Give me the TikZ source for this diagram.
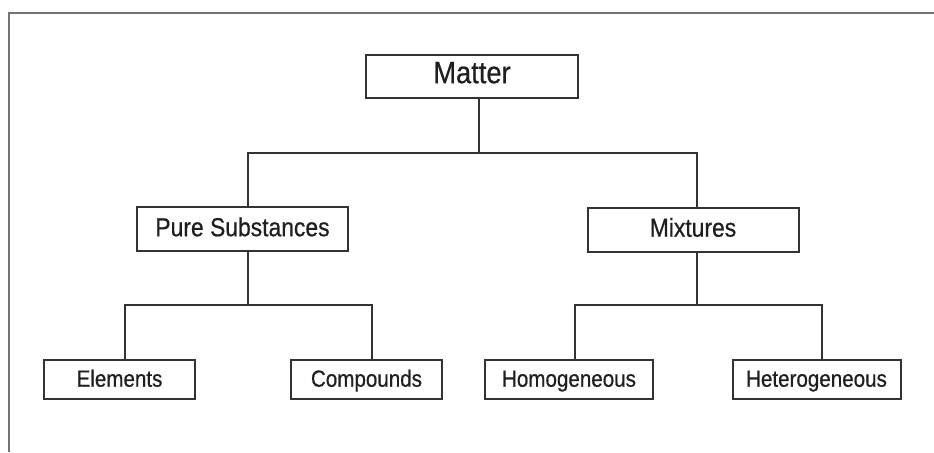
\documentclass[tikz,border=0pt]{standalone}
\usepackage{fontspec}
\setmainfont{Liberation Sans}[FakeStretch=0.88,FakeBold=0.6]
\begin{document}
\begin{tikzpicture}[x=0.5pt,y=-0.5pt,
  box/.style={draw=black!80,line width=1pt,inner sep=0pt,text=black!88,text height=0.72em,text depth=0pt},
  top/.style={box,minimum width=106pt,minimum height=21.5pt,font=\fontsize{15.5}{18}\selectfont},
  mid/.style={box,minimum width=105.5pt,minimum height=22pt,font=\fontsize{13}{16}\selectfont},
  leaf/.style={box,minimum width=75.5pt,minimum height=19.5pt,font=\fontsize{11.7}{14}\selectfont},
  wide/.style={box,minimum width=84pt,minimum height=19.5pt,font=\fontsize{11.7}{14}\selectfont},
  link/.style={draw=black!80,line width=1pt},
  frame/.style={draw=black!55,line width=1.2pt}]
\useasboundingbox (0,0) rectangle (934,452);
\fill[white] (0,0) rectangle (934,452);
\draw[frame] (9,452) -- (9,13) -- (934,13);

\node[top]  (matter) at (472,76)    {Matter};
\node[mid]  (pure)   at (242.5,229) {Pure Substances};
\node[mid]  (mix)    at (693,229.5) {Mixtures};
\node[leaf] (elem)   at (119.5,379.5) {Elements};
\node[leaf] (comp)   at (366.5,379.5) {Compounds};
\node[wide] (homo)   at (569,379.5) {Homogeneous};
\node[wide] (hetero) at (816.5,379.5) {Heterogeneous};

\coordinate (j1) at (479,153);
\coordinate (j2) at (248,305);
\coordinate (j3) at (697,305);

\draw[link] (matter.south -| j1) -- (j1);
\draw[link] ([xshift=2.75pt]pure.north) |- (j1) -| ([xshift=2pt]mix.north);
\draw[link] ([xshift=2.75pt]pure.south) -- (j2);
\draw[link] ([xshift=2.75pt]elem.north) |- (j2) -| ([xshift=2.75pt]comp.north);
\draw[link] ([xshift=2pt]mix.south) -- (j3);
\draw[link] ([xshift=3pt]homo.north) |- (j3) -| ([xshift=2.75pt]hetero.north);
\end{tikzpicture}
\end{document}
